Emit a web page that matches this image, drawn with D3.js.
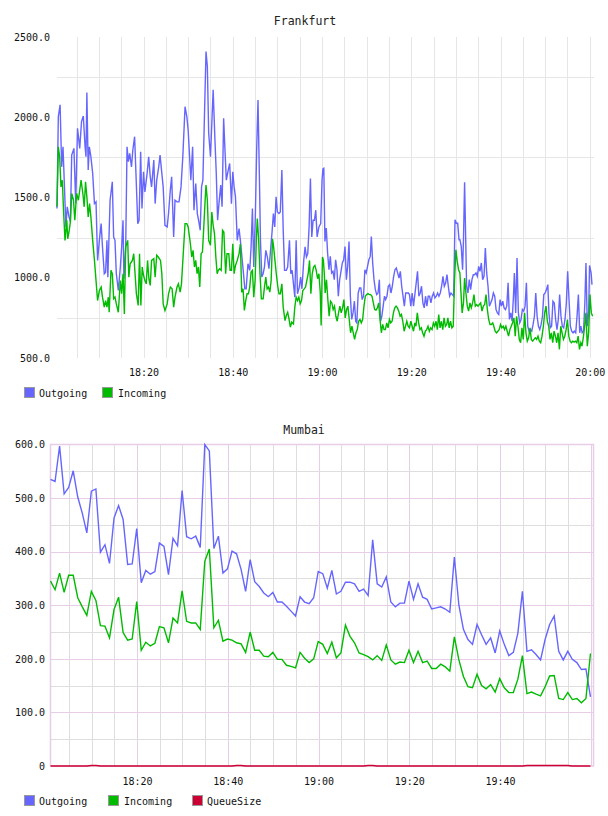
<!DOCTYPE html>
<html><head><meta charset="utf-8">
<script src="https://cdnjs.cloudflare.com/ajax/libs/d3/7.8.5/d3.min.js"></script>
<style>
body{margin:0;background:#fff;}
svg{display:block;font-family:"DejaVu Sans Mono",monospace;}
</style></head><body>
<svg id="c" width="608" height="816"></svg>
<script>
// ---------- DATA ----------
// Frankfurt: [minutes after 18:00, value]
const fraOutgoing = [[0.6,1431],[0.9,2004],[1.3,2077],[1.65,1691],[1.95,1816],[2.25,1587],[2.6,1317],[2.9,1442],[3.3,1379],[3.6,1348],[3.9,1764],[4.4,1806],[4.8,1462],[5.2,1931],[5.7,1806],[6.1,1973],[6.5,2008],[6.9,1816],[7.1,1754],[7.3,2154],[7.6,1671],[7.85,1816],[8.2,1754],[8.6,1650],[9.0,1462],[9.35,1473],[9.7,1108],[10.1,1233],[10.5,1337],[10.8,1192],[11.2,1025],[11.5,1035],[11.8,1233],[12.0,1004],[12.5,1483],[13.0,1598],[13.3,1254],[13.6,1233],[13.9,1025],[14.35,921],[14.8,1067],[15.1,1192],[15.4,1358],[15.6,994],[16.0,1192],[16.3,1816],[16.6,1723],[16.9,1775],[17.3,1691],[17.6,1796],[18.0,1879],[18.3,1650],[18.7,1337],[19.0,1358],[19.35,1785],[19.65,1431],[20.0,1660],[20.3,1535],[20.8,1650],[21.15,1754],[21.5,1629],[21.8,1566],[22.3,1733],[22.6,1462],[22.95,1608],[23.4,1691],[23.7,1764],[24.1,1650],[24.4,1566],[24.8,1327],[25.3,1317],[25.6,1400],[26.0,1546],[26.3,1629],[26.75,1254],[27.05,1483],[27.5,1473],[27.95,1473],[28.4,1566],[28.8,1754],[29.3,2066],[29.7,2004],[30.0,1921],[30.6,1608],[31.0,1816],[31.3,1421],[31.7,1587],[32.05,1400],[32.4,1348],[32.7,1296],[33.0,1566],[33.3,1608],[33.7,2066],[34.0,2410],[34.3,2316],[34.6,1900],[35.0,1754],[35.3,1962],[35.6,2171],[36.0,1858],[36.3,1650],[36.6,1358],[36.9,1462],[37.3,1577],[37.6,1442],[37.95,1994],[38.25,1796],[38.55,1608],[38.9,1660],[39.3,1712],[39.7,1462],[40.0,1660],[40.3,1566],[40.6,1504],[41.0,1233],[41.4,1306],[41.7,1233],[42.05,1129],[42.4,1025],[42.7,931],[43.0,931],[43.4,1087],[43.8,1046],[44.1,1192],[44.4,1431],[44.7,1067],[45.05,1379],[45.35,1796],[45.65,2108],[45.95,1650],[46.2,1233],[46.5,1004],[46.8,1025],[47.1,1067],[47.4,1171],[47.75,1129],[48.1,1056],[48.4,1150],[48.8,1285],[49.1,1400],[49.4,1317],[49.7,1504],[50.0,1410],[50.35,1400],[50.65,1410],[51.0,1671],[51.3,1296],[51.6,1046],[52.0,1046],[52.3,1067],[52.7,1233],[53.0,1025],[53.3,1046],[53.6,962],[53.9,879],[54.2,1233],[54.5,900],[54.9,942],[55.2,1004],[55.5,931],[55.9,1108],[56.2,1192],[56.5,1129],[56.8,1150],[57.1,1317],[57.4,1619],[57.7,1254],[58.0,1358],[58.3,1358],[58.6,1421],[58.9,1254],[59.3,1317],[59.7,1337],[60.0,1608],[60.2,1678],[60.4,1682],[60.65,1226],[60.95,1309],[61.25,1154],[61.55,1050],[61.85,1133],[62.15,1030],[62.45,1040],[62.75,988],[63.05,1112],[63.35,1050],[63.65,885],[63.95,988],[64.25,1040],[64.55,1092],[64.85,1112],[65.15,1195],[65.45,988],[65.75,1071],[66.05,1226],[66.35,885],[66.65,740],[66.95,781],[67.25,854],[67.55,729],[67.8,719],[68.1,905],[68.4,936],[68.7,936],[69.0,864],[69.3,885],[69.6,1050],[69.9,1030],[70.2,1071],[70.5,1112],[70.8,1133],[71.05,1257],[71.35,1092],[71.65,988],[71.95,926],[72.25,895],[72.55,905],[72.85,988],[73.1,729],[73.4,760],[73.7,823],[74.0,885],[74.25,864],[74.55,885],[74.85,947],[75.15,957],[75.45,905],[75.75,947],[76.05,1009],[76.35,1050],[76.65,1061],[76.95,1030],[77.25,998],[77.55,1040],[77.85,947],[78.15,885],[78.45,823],[78.75,905],[79.05,905],[79.35,905],[79.6,895],[79.9,823],[80.2,905],[80.5,823],[80.8,895],[81.1,967],[81.4,1040],[81.7,885],[82.0,905],[82.3,947],[82.6,843],[82.9,812],[83.2,885],[83.5,823],[83.8,885],[84.1,885],[84.4,843],[84.7,885],[85.0,905],[85.3,874],[85.6,885],[85.9,905],[86.2,885],[86.5,905],[86.8,947],[87.1,1009],[87.4,947],[87.7,967],[88.0,1019],[88.3,947],[88.6,885],[88.9,905],[89.2,895],[89.5,885],[89.8,1361],[90.1,1340],[90.4,1340],[90.7,1237],[90.9,1237],[91.2,1195],[91.5,1050],[91.7,1237],[91.95,1595],[92.2,1237],[92.4,947],[92.7,905],[93.0,988],[93.3,926],[93.6,988],[93.9,1019],[94.2,1019],[94.5,1030],[94.8,1009],[95.1,1071],[95.4,1040],[95.7,1092],[96.0,988],[96.3,1009],[96.6,1185],[96.9,1030],[97.2,947],[97.5,823],[97.8,843],[98.1,864],[98.4,905],[98.7,885],[99.0,802],[99.3,781],[99.6,771],[99.9,864],[100.2,823],[100.5,854],[100.8,812],[101.1,802],[101.4,823],[101.7,968],[102.0,740],[102.3,781],[102.6,729],[102.9,885],[103.1,1030],[103.4,781],[103.7,1123],[104.0,781],[104.3,719],[104.6,740],[104.9,802],[105.2,792],[105.5,823],[105.8,968],[106.1,698],[106.4,667],[106.7,677],[107.0,667],[107.3,709],[107.6,760],[107.9,905],[108.2,760],[108.5,698],[108.8,677],[109.1,709],[109.4,760],[109.7,895],[110.0,905],[110.3,926],[110.6,957],[110.85,781],[111.15,688],[111.45,698],[111.75,854],[112.05,843],[112.35,740],[112.65,677],[112.95,740],[113.25,895],[113.55,760],[113.85,698],[114.15,688],[114.45,740],[114.75,843],[115.05,1040],[115.35,864],[115.65,698],[115.95,667],[116.25,657],[116.55,667],[116.85,657],[117.15,760],[117.45,895],[117.75,657],[118.0,698],[118.3,657],[118.6,667],[118.9,843],[119.15,1092],[119.45,698],[119.75,781],[119.95,1077],[120.3,1030],[120.5,957]];

const fraIncoming = [[0.6,1442],[0.9,1816],[1.2,1754],[1.5,1566],[1.8,1608],[2.1,1400],[2.4,1233],[2.8,1358],[3.0,1243],[3.3,1285],[3.6,1348],[3.9,1525],[4.3,1483],[4.6,1358],[5.0,1525],[5.4,1483],[5.7,1546],[6.0,1608],[6.4,1525],[6.7,1442],[7.0,1598],[7.3,1504],[7.6,1379],[7.9,1462],[8.2,1379],[8.6,1233],[9.0,1108],[9.35,983],[9.7,858],[10.1,921],[10.5,942],[10.8,879],[11.2,817],[11.5,858],[11.8,817],[12.1,879],[12.3,785],[12.7,1046],[13.0,1025],[13.3,869],[13.6,879],[13.9,837],[14.35,785],[14.8,983],[15.1,900],[15.4,1025],[15.7,775],[16.0,1192],[16.45,1233],[16.7,1004],[17.0,1087],[17.5,1108],[17.8,1150],[18.1,1025],[18.4,900],[18.8,827],[19.1,1150],[19.4,827],[19.7,1067],[20.0,1015],[20.3,983],[20.6,962],[20.9,1108],[21.2,994],[21.5,952],[21.8,1108],[22.3,1119],[22.6,1004],[22.95,1140],[23.3,1129],[23.8,1108],[24.1,1025],[24.4,837],[24.8,796],[25.3,837],[25.6,900],[26.0,942],[26.4,931],[26.75,817],[27.05,879],[27.5,942],[27.8,962],[28.2,910],[28.5,962],[28.9,1150],[29.3,1337],[29.7,1337],[30.0,1317],[30.5,1212],[30.8,1129],[31.1,1171],[31.4,1067],[31.7,1108],[32.0,1025],[32.3,1067],[32.6,942],[32.9,1150],[33.2,1160],[33.5,1317],[33.8,1483],[34.0,1577],[34.3,1483],[34.6,1233],[35.0,1202],[35.3,1410],[35.6,1327],[35.9,1275],[36.2,1129],[36.5,1025],[36.75,1046],[37.05,1056],[37.4,1046],[37.7,1296],[38.0,1285],[38.4,1025],[38.7,1150],[39.1,1150],[39.4,1046],[39.7,1046],[40.0,1212],[40.3,1025],[40.6,1077],[41.0,1108],[41.4,1150],[41.7,1212],[42.0,910],[42.3,931],[42.6,796],[42.9,858],[43.2,900],[43.5,900],[43.8,942],[44.1,1035],[44.4,1046],[44.7,879],[45.0,983],[45.3,1254],[45.5,1369],[45.8,1233],[46.1,1025],[46.4,869],[46.8,869],[47.1,942],[47.4,1004],[47.7,931],[48.0,942],[48.3,910],[48.6,983],[48.9,1243],[49.15,1192],[49.45,1108],[49.75,1025],[50.05,952],[50.35,900],[50.65,900],[51.0,962],[51.3,817],[51.7,733],[52.0,765],[52.3,785],[52.6,744],[52.9,692],[53.2,723],[53.6,712],[53.9,817],[54.2,879],[54.5,858],[54.8,879],[55.1,837],[55.4,858],[55.7,921],[56.0,931],[56.3,942],[56.6,983],[56.9,1025],[57.2,1108],[57.5,900],[57.8,1025],[58.1,1067],[58.4,1077],[58.7,1046],[59.0,994],[59.3,1025],[59.6,910],[59.8,702],[60.1,1129],[60.3,1110],[60.5,1030],[60.7,905],[61.0,988],[61.3,864],[61.6,760],[61.9,854],[62.2,843],[62.5,802],[62.8,823],[63.1,760],[63.4,729],[63.7,781],[64.0,823],[64.3,781],[64.6,812],[64.9,864],[65.2,750],[65.5,802],[65.8,823],[66.1,740],[66.4,657],[66.7,698],[67.0,657],[67.3,616],[67.6,657],[67.9,677],[68.2,729],[68.5,740],[68.8,719],[69.1,740],[69.4,823],[69.7,885],[70.0,895],[70.3,901],[70.6,895],[70.9,895],[71.2,885],[71.5,843],[71.8,802],[72.1,798],[72.4,812],[72.7,843],[73.0,740],[73.3,657],[73.6,709],[73.9,677],[74.2,677],[74.5,719],[74.8,688],[75.1,740],[75.4,719],[75.7,729],[76.0,781],[76.3,812],[76.6,823],[76.9,812],[77.2,792],[77.5,760],[77.8,771],[78.1,729],[78.4,667],[78.7,698],[79.0,729],[79.3,698],[79.6,688],[79.9,729],[80.2,698],[80.5,667],[80.8,719],[81.05,698],[81.35,781],[81.65,719],[81.95,677],[82.25,688],[82.55,657],[82.85,636],[83.15,667],[83.45,677],[83.75,698],[84.05,667],[84.35,688],[84.65,677],[84.95,719],[85.25,698],[85.55,729],[85.85,677],[86.15,771],[86.45,688],[86.75,729],[87.05,677],[87.35,750],[87.65,698],[87.95,709],[88.2,750],[88.5,688],[88.8,729],[89.1,688],[89.4,698],[89.7,988],[90.0,1174],[90.3,1102],[90.6,1050],[90.9,1030],[91.1,926],[91.4,781],[91.7,843],[91.95,998],[92.25,905],[92.55,823],[92.85,792],[93.15,843],[93.45,812],[93.75,843],[94.05,895],[94.35,823],[94.65,833],[94.95,823],[95.25,833],[95.55,843],[95.85,792],[96.15,823],[96.45,833],[96.75,895],[97.05,802],[97.35,740],[97.65,709],[97.95,709],[98.25,719],[98.5,698],[98.8,667],[99.1,657],[99.4,667],[99.7,677],[100.0,709],[100.3,688],[100.6,698],[100.9,677],[101.2,698],[101.5,667],[101.8,636],[102.1,677],[102.4,698],[102.7,719],[103.0,750],[103.3,636],[103.6,760],[103.9,698],[104.2,616],[104.5,595],[104.8,688],[105.1,616],[105.4,781],[105.7,657],[106.0,605],[106.3,626],[106.6,688],[106.9,616],[107.2,605],[107.5,616],[107.8,626],[108.1,616],[108.4,636],[108.7,605],[109.0,595],[109.3,636],[109.6,698],[109.9,781],[110.2,823],[110.5,729],[110.8,698],[111.1,616],[111.4,657],[111.7,595],[112.0,667],[112.3,636],[112.6,595],[112.9,657],[113.2,554],[113.5,698],[113.8,657],[114.1,616],[114.4,636],[114.7,677],[115.0,740],[115.3,636],[115.6,605],[115.9,595],[116.2,605],[116.5,599],[116.8,605],[117.1,595],[117.4,636],[117.7,554],[118.0,595],[118.25,574],[118.55,626],[118.85,698],[119.15,781],[119.45,574],[119.75,657],[120.05,895],[120.35,781],[120.65,760]];

const fraYTicks = [500, 1000, 1500, 2000, 2500];
const fraYGrid = [750, 1250, 1750, 2250];
const fraXTicks = ["18:20", "18:40", "19:00", "19:20", "19:40", "20:00"];

// Mumbai: one sample per minute starting 18:00:56
const mumStart = "18:00:56";
const mumOutgoing = [535,531,597,508,520,551,502,472,435,513,
517,399,413,378,463,486,460,376,377,443,
342,365,358,363,416,410,357,425,411,514,
428,424,429,408,600,588,406,429,360,368,
401,396,367,326,385,344,335,323,316,324,
306,306,298,289,280,316,306,303,314,363,
359,332,365,321,326,343,343,340,326,330,
318,422,340,334,353,306,297,304,304,345,
311,340,315,311,293,295,297,293,287,390,
300,255,236,227,264,245,227,239,211,252,
227,206,212,248,326,214,217,208,198,236,
264,280,214,198,214,199,193,180,181,129];
const mumIncoming = [345,329,360,324,356,356,314,297,281,326,
309,262,261,239,292,315,249,235,237,307,
216,231,224,229,260,258,230,276,267,327,
270,267,267,255,382,405,258,272,233,237,
235,230,228,212,250,216,216,205,204,212,
199,199,188,186,183,212,201,193,200,232,
227,210,231,202,211,263,242,230,211,208,
204,198,206,197,226,198,190,194,193,216,
193,214,193,196,182,182,190,185,177,241,
198,167,148,146,171,150,144,152,138,163,
146,137,137,162,206,135,138,134,131,148,
168,169,126,124,137,124,126,118,126,210];
const mumQueueSize = [0,0,0,0,0,0,0,0,0,1,
1,0,0,0,0,0,0,0,0,0,
0,0,0,0,0,0,0,0,0,0,
0,0,0,0,0,0,0,0,0,0,
0,1,1,0,0,0,0,0,0,0,
0,0,0,0,0,0,0,0,0,0,
0,0,0,0,0,0,0,0,0,0,
1,1,0,0,0,0,0,0,0,0,
0,0,0,0,0,0,0,0,0,0,
0,0,0,0,0,0,0,0,0,0,
0,0,0,0,0,1,1,1,1,1,
1,1,1,1,1,0,0,0,0,0];
const mumYTicks = [0, 100, 200, 300, 400, 500, 600];
const mumYMinor = [50, 150, 250, 350, 450, 550];
const mumXTicks = ["18:20", "18:40", "19:00", "19:20", "19:40"];

const COLORS = {Outgoing: "#6666ff", Incoming: "#00bb00", QueueSize: "#cc0033"};

// ---------- HELPERS ----------
const BASE = new Date(2012, 0, 1, 18, 0, 0).getTime();
const atMin = m => new Date(BASE + m * 60000);
const parseHM = s => { const p = s.split(":").map(Number); return atMin((p[0]-18)*60 + p[1] + (p[2]||0)/60); };
const fmtY = v => v === 0 ? "0" : d3.format(".1f")(v);

const svg = d3.select("#c");

function legend(y, items, xs) {
  const g = svg.append("g");
  items.forEach((name, i) => {
    g.append("rect").attr("x", xs[i][0] + 0.5).attr("y", y + 0.5).attr("width", 10).attr("height", 10)
      .attr("fill", COLORS[name]).attr("stroke", "#999").attr("stroke-width", 1);
    g.append("text").attr("x", xs[i][1]).attr("y", y + 9.5).attr("font-size", 10).attr("fill", "#111").text(name);
  });
}

// ---------- FRANKFURT ----------
{
  const x = d3.scaleTime().domain([atMin(0.605), atMin(120.95)]).range([57, 594]);
  const y = d3.scaleLinear().domain([500, 2500]).range([358, 37]);
  const g = svg.append("g");
  // grid
  g.selectAll(".vg").data(x.ticks(d3.timeMinute.every(5))).join("line")
    .attr("x1", d => Math.round(x(d)) + 0.5).attr("x2", d => Math.round(x(d)) + 0.5)
    .attr("y1", 37).attr("y2", 358).attr("stroke", "#e6e6e6");
  g.selectAll(".hg").data(fraYGrid).join("line")
    .attr("x1", 57).attr("x2", 594).attr("y1", d => Math.round(y(d)) + 0.5).attr("y2", d => Math.round(y(d)) + 0.5)
    .attr("stroke", "#e6e6e6");
  // axes
  const ya = d3.axisLeft(y).tickValues(fraYTicks).tickFormat(fmtY).tickSize(0).tickPadding(7);
  const yg = g.append("g").attr("transform", "translate(57,0)").call(ya);
  yg.select(".domain").remove();
  yg.selectAll("text").attr("font-family", "DejaVu Sans Mono").attr("font-size", 10).attr("fill", "#111");
  const xa = d3.axisBottom(x).tickValues(fraXTicks.map(parseHM)).tickFormat(d3.timeFormat("%H:%M")).tickSize(0).tickPadding(11);
  const xg = g.append("g").attr("transform", "translate(0,358)").call(xa);
  xg.select(".domain").remove();
  xg.selectAll("text").attr("font-family", "DejaVu Sans Mono").attr("font-size", 10).attr("fill", "#111");
  // lines
  const line = d3.line().x(d => x(atMin(d[0]))).y(d => y(d[1]));
  g.append("path").datum(fraOutgoing).attr("d", line).attr("fill", "none").attr("stroke", COLORS.Outgoing).attr("stroke-width", 1.4);
  g.append("path").datum(fraIncoming).attr("d", line).attr("fill", "none").attr("stroke", COLORS.Incoming).attr("stroke-width", 1.4);
  // title
  svg.append("text").attr("x", 305).attr("y", 24.5).attr("text-anchor", "middle").attr("font-size", 11.5).attr("fill", "#222").text("Frankfurt");
  legend(387, ["Outgoing", "Incoming"], [[24, 39], [102, 118]]);
}

// ---------- MUMBAI ----------
{
  const t0 = parseHM(mumStart);
  const x = d3.scaleTime().domain([atMin(0.93), atMin(120.6)]).range([50.5, 593.5]);
  const y = d3.scaleLinear().domain([0, 600]).range([766, 444.5]);
  const tAt = i => new Date(t0.getTime() + i * 60000);
  const g = svg.append("g");
  const MINOR = "#dedede", MAJOR = "#e8cde8";
  const vt = x.ticks(d3.timeMinute.every(5));
  g.selectAll(".vg").data(vt).join("line")
    .attr("x1", d => Math.round(x(d)) + 0.5).attr("x2", d => Math.round(x(d)) + 0.5)
    .attr("y1", 444.5).attr("y2", 766)
    .attr("stroke", d => d.getMinutes() % 20 === 0 ? MAJOR : MINOR);
  g.selectAll(".hm").data(mumYMinor).join("line")
    .attr("x1", 50.5).attr("x2", 593.5).attr("y1", d => Math.round(y(d)) + 0.5).attr("y2", d => Math.round(y(d)) + 0.5)
    .attr("stroke", MINOR);
  g.selectAll(".hM").data(mumYTicks.filter(v => v > 0 && v < 600)).join("line")
    .attr("x1", 50.5).attr("x2", 593.5).attr("y1", d => Math.round(y(d)) + 0.5).attr("y2", d => Math.round(y(d)) + 0.5)
    .attr("stroke", MAJOR);
  g.append("rect").attr("x", 50.5).attr("y", 444.5).attr("width", 543).attr("height", 321.5)
    .attr("fill", "none").attr("stroke", MAJOR).attr("stroke-width", 1.5);
  const ya = d3.axisLeft(y).tickValues(mumYTicks).tickFormat(fmtY).tickSize(0).tickPadding(6);
  const yg = g.append("g").attr("transform", "translate(51,0)").call(ya);
  yg.select(".domain").remove();
  yg.selectAll("text").attr("font-family", "DejaVu Sans Mono").attr("font-size", 10).attr("fill", "#111");
  const xa = d3.axisBottom(x).tickValues(mumXTicks.map(parseHM)).tickFormat(d3.timeFormat("%H:%M")).tickSize(0).tickPadding(12);
  const xg = g.append("g").attr("transform", "translate(0,766)").call(xa);
  xg.select(".domain").remove();
  xg.selectAll("text").attr("font-family", "DejaVu Sans Mono").attr("font-size", 10).attr("fill", "#111");
  const line = d3.line().x((d, i) => x(tAt(i))).y(d => y(d));
  [["Outgoing", mumOutgoing], ["Incoming", mumIncoming], ["QueueSize", mumQueueSize]].forEach(([n, arr]) => {
    g.append("path").datum(arr).attr("d", line).attr("fill", "none").attr("stroke", COLORS[n]).attr("stroke-width", 1.4);
  });
  svg.append("text").attr("x", 304).attr("y", 433.5).attr("text-anchor", "middle").attr("font-size", 11.5).attr("fill", "#222").text("Mumbai");
  legend(795, ["Outgoing", "Incoming", "QueueSize"], [[24, 39], [108, 124], [192, 207]]);
}
</script></body></html>
